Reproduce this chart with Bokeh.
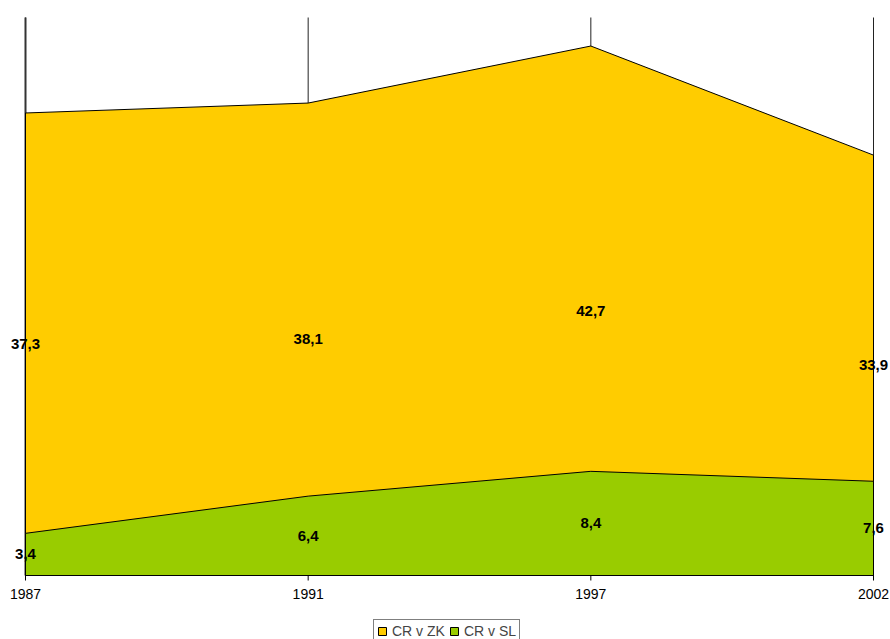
from bokeh.plotting import figure
from bokeh.models import (ColumnDataSource, Range1d, Legend, LegendItem)
from bokeh.core.properties import value
from bokeh.embed import file_html
from bokeh.resources import INLINE

years = ["1987", "1991", "1997", "2002"]
cr_zk = [37.3, 38.1, 42.7, 33.9]
cr_sl = [3.4, 6.4, 8.4, 7.6]
y_max = 45

W, H = 890, 639
left, right, top, bottom = 25, 17, 17, 64

xs = list(range(len(years)))
n = len(years) - 1
ppx = (W - left - right) / n          # pixels per x unit
ppy = (H - top - bottom) / y_max      # pixels per y unit

p = figure(width=W, height=H, output_backend="svg", toolbar_location=None,
           x_range=Range1d(-left / ppx, n + right / ppx),
           y_range=Range1d(-bottom / ppy, y_max + top / ppy),
           min_border_left=0, min_border_right=0, min_border_top=0,
           min_border_bottom=0)
p.outline_line_color = None
p.background_fill_color = "white"
p.border_fill_color = "white"
p.grid.visible = False
p.axis.visible = False

# vertical category gridlines (behind areas)
p.segment(x0=xs, y0=[0] * len(xs), x1=xs, y1=[y_max] * len(xs),
          line_color="#222222", line_width=1)
p.segment(x0=[0], y0=[0], x1=[0], y1=[y_max], line_color="#333333",
          line_width=2)

zk_x = [xs[0]] + xs + [xs[-1]]
r_zk = p.patch(zk_x, [0] + cr_zk + [0], fill_color="#FFCC00",
               line_color="black", line_width=1)
r_sl = p.patch(zk_x, [0] + cr_sl + [0], fill_color="#99CC00",
               line_color="black", line_width=1)

# x axis line, ticks and labels
p.segment(x0=[0], y0=[0], x1=[n], y1=[0], line_color="black", line_width=1)
tick_len = 5 / ppy
p.segment(x0=xs, y0=[0] * len(xs), x1=xs, y1=[-tick_len] * len(xs),
          line_color="black", line_width=1)
p.text(x=xs, y=[0] * len(xs), text=years, y_offset=13,
       text_align="center", text_baseline="top",
       text_font=value("Liberation Sans"), text_font_size="14px",
       text_color="black")

def fmt(v):
    return ("%.1f" % v).replace(".", ",")

src_zk = ColumnDataSource(dict(x=xs, y=[v / 2 for v in cr_zk],
                               t=[fmt(v) for v in cr_zk]))
src_sl = ColumnDataSource(dict(x=xs, y=[v / 2 for v in cr_sl],
                               t=[fmt(v) for v in cr_sl]))
for src in (src_zk, src_sl):
    p.text(x="x", y="y", text="t", source=src,
           text_align="center", text_baseline="middle",
           text_font=value("Liberation Sans"), text_font_size="15px",
           text_font_style="bold", text_color="black")

legend = Legend(items=[LegendItem(label="CR v ZK", renderers=[r_zk]),
                       LegendItem(label="CR v SL", renderers=[r_sl])],
                orientation="horizontal", location=(373, -4),
                border_line_color="black", border_line_width=1,
                background_fill_color="white", background_fill_alpha=1,
                label_text_font="Liberation Sans", label_text_font_size="14px",
                glyph_width=10, glyph_height=10, label_standoff=5, spacing=4,
                padding=3, margin=0, label_height=16, label_width=10)
p.add_layout(legend, "center")

open("out.html", "w").write(file_html(p, INLINE))
